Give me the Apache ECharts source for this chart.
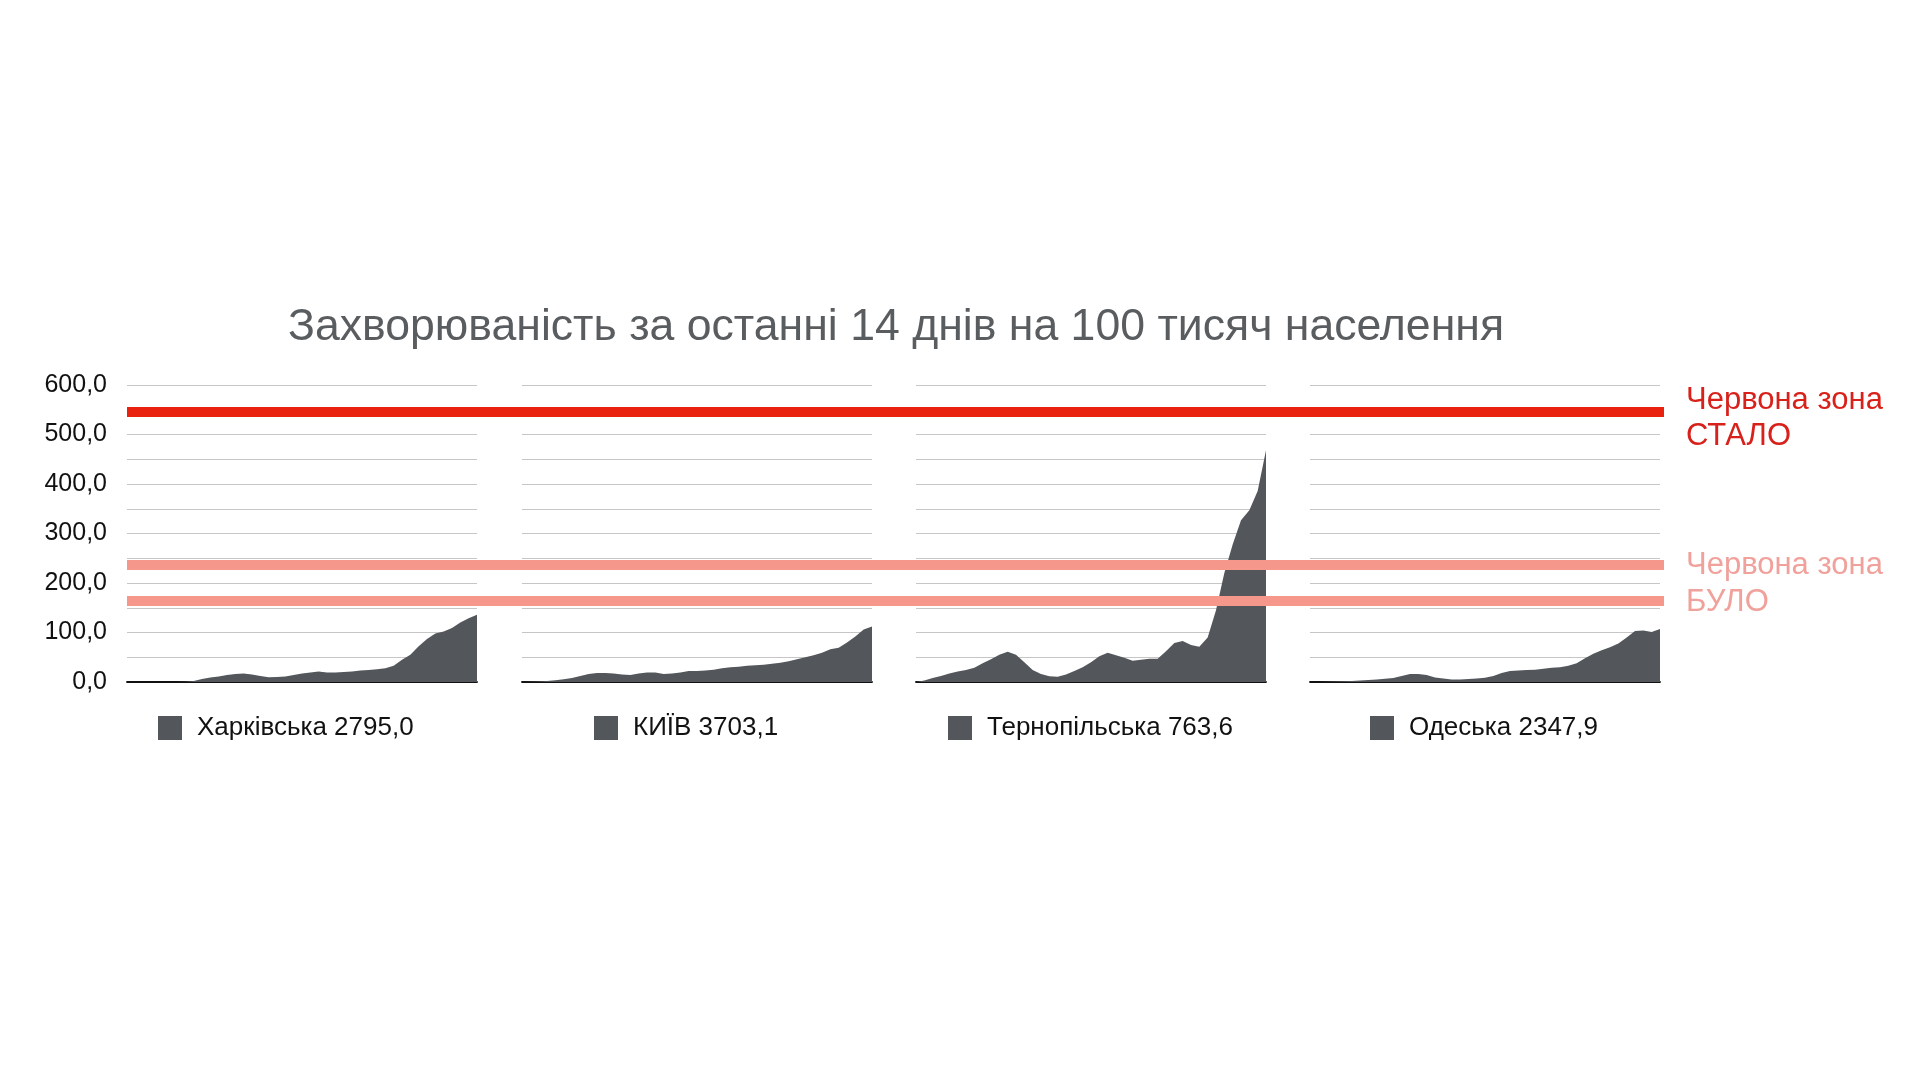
<!DOCTYPE html>
<html>
<head>
<meta charset="utf-8">
<script src="https://cdn.jsdelivr.net/npm/echarts@6/dist/echarts.min.js"></script>
<style>
  html, body { margin: 0; padding: 0; background: #fff; }
  #main { width: 1920px; height: 1080px; }
</style>
</head>
<body>
<div id="main"></div>
<script>
const titleText = 'Захворюваність за останні 14 днів на 100 тисяч населення'
const regionNames = ['Харківська 2795,0', 'КИЇВ 3703,1', 'Тернопільська 763,6', 'Одеська 2347,9']

// same time span on every panel, evenly spaced samples
const days = Array.from({length: 43}, (_, i) => i)

const kharkiv = [0, 0, 0, 0, 0, 0, 0, 0.5, 2, 6, 9, 11, 14, 16, 17, 15, 12, 9.5, 10, 11, 14, 17, 19, 21, 19, 19, 20, 21, 23, 24, 26, 28, 33, 45, 55, 72, 87, 98, 102, 109, 120, 129, 136]
const kyiv = [0, 0.5, 1, 2, 3.5, 5.5, 8, 12, 16, 18, 18, 17, 15, 14, 17, 19, 19, 16, 17, 19, 22, 22, 23, 25, 28, 30, 31, 33, 34, 35, 37, 39, 42, 46, 50, 54, 59, 66, 69, 80, 92, 106, 112]
const ternopil = [0, 3, 8, 12, 17, 21, 24, 29, 38, 46, 55, 61, 55, 40, 24, 16, 11.5, 10.8, 15, 22, 30, 40, 52, 59, 54, 49, 43, 45, 47, 47, 62, 79, 83, 75, 71, 90, 145, 220, 278, 327, 347, 386, 468]
const odesa = [0, 0, 0.5, 1, 1.5, 2, 3, 4, 5, 6.5, 8, 12, 16, 16, 14, 9, 7, 5, 5, 6, 7, 8.5, 12, 18, 22, 23, 24, 25, 27, 29, 30, 33, 38, 48, 57, 64, 70, 78, 90, 103, 104, 101, 107]

const yTicks = [0, 100, 200, 300, 400, 500, 600]

// червона зона: нова межа та дві старі
const zoneNow = 545
const zoneBefore = [236, 165]

const seriesValues = [kharkiv, kyiv, ternopil, odesa]
const panelLeft = [127, 522, 916, 1310]
const panelWidth = 350
const legendLeft = [153, 589, 943, 1365]

const areaColor = '#53575b'
const fontFamily = "'Liberation Sans', Arial, sans-serif"

const chart = echarts.init(document.getElementById('main'))

const grids = []
const xAxes = []
const yAxes = []
const series = []
const legends = []

seriesValues.forEach((vals, i) => {
    grids.push({left: panelLeft[i], width: panelWidth, top: 385, bottom: 398})
    xAxes.push({
        type: 'category',
        gridIndex: i,
        data: days,
        boundaryGap: false,
        axisTick: {show: false},
        axisLabel: {show: false},
        axisLine: {show: true, lineStyle: {color: '#111', width: 1.8}},
        splitLine: {show: false}
    })
    yAxes.push({
        type: 'value',
        gridIndex: i,
        min: 0,
        max: 600,
        interval: 50,
        axisLine: {show: false},
        axisTick: {show: false},
        axisLabel: {
            show: i === 0,
            margin: 20,
            fontSize: 25,
            color: '#111',
            fontFamily: fontFamily,
            formatter: v => yTicks.includes(v) ? v.toFixed(1).replace('.', ',') : ''
        },
        splitLine: {show: true, lineStyle: {color: '#c6c6c6', width: 1}}
    })
    series.push({
        name: regionNames[i],
        type: 'line',
        xAxisIndex: i,
        yAxisIndex: i,
        data: vals,
        symbol: 'none',
        lineStyle: {width: 0},
        areaStyle: {color: areaColor, opacity: 1},
        itemStyle: {color: areaColor},
        z: 2
    })
    legends.push({
        data: [regionNames[i]],
        left: legendLeft[i],
        top: 710,
        icon: 'rect',
        itemWidth: 24,
        itemHeight: 24,
        textStyle: {fontSize: 26, color: '#111', fontFamily: fontFamily, padding: [0, 0, 0, 10]}
    })
})

// overlay grid for the zone lines across all panels
grids.push({left: 127, right: 256, top: 385, bottom: 398})
xAxes.push({type: 'value', gridIndex: 4, min: 0, max: 1, show: false})
yAxes.push({type: 'value', gridIndex: 4, min: 0, max: 600, show: false})

const pink = '#f5978b'
const pinkText = '#f0a19b'
series.push({
    name: 'zones',
    type: 'line',
    xAxisIndex: 4,
    yAxisIndex: 4,
    data: [],
    silent: true,
    z: 5,
    markLine: {
        symbol: 'none',
        silent: true,
        animation: false,
        data: [
            {
                yAxis: zoneNow,
                lineStyle: {color: '#e8220f', width: 10, type: 'solid'},
                label: {
                    show: true, position: 'end', distance: 22,
                    formatter: '{gap|}\nЧервона зона\nСТАЛО',
                    color: '#d8211b', fontSize: 31, lineHeight: 36,
                    fontFamily: fontFamily, align: 'left',
                    rich: {gap: {height: 13, lineHeight: 13, fontSize: 1}}
                }
            },
            {
                yAxis: zoneBefore[0],
                lineStyle: {color: pink, width: 10, type: 'solid'},
                label: {
                    show: true, position: 'end', distance: 22,
                    formatter: 'Червона зона',
                    color: pinkText, fontSize: 31, fontFamily: fontFamily, align: 'left'
                }
            },
            {
                yAxis: zoneBefore[1],
                lineStyle: {color: pink, width: 10, type: 'solid'},
                label: {
                    show: true, position: 'end', distance: 22,
                    formatter: '{gap|}\nБУЛО',
                    color: pinkText, fontSize: 31, lineHeight: 36, fontFamily: fontFamily, align: 'left',
                    rich: {gap: {height: 4, lineHeight: 4, fontSize: 1}}
                }
            }
        ]
    }
})

chart.setOption({
    backgroundColor: '#fff',
    animation: false,
    title: {
        text: titleText,
        left: 283,
        top: 300,
        textStyle: {fontSize: 44.6, fontWeight: 'normal', color: '#5a5d60', fontFamily: fontFamily}
    },
    legend: legends,
    grid: grids,
    xAxis: xAxes,
    yAxis: yAxes,
    series: series
})
</script>
</body>
</html>
